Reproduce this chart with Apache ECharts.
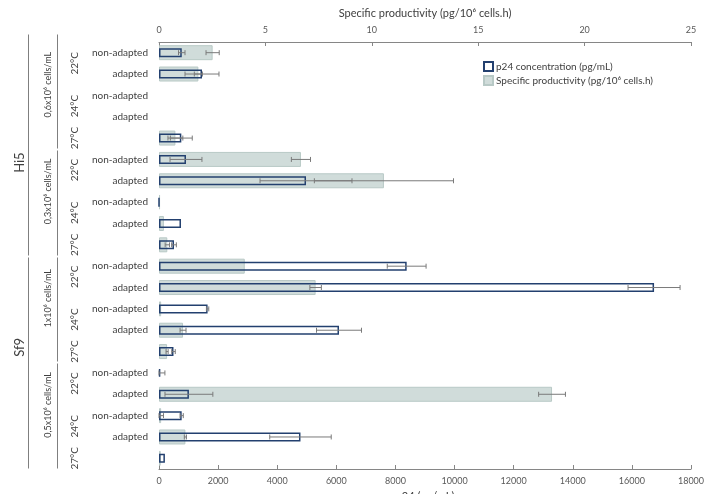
<!DOCTYPE html>
<html>
<head>
<meta charset="utf-8">
<script src="https://cdn.jsdelivr.net/npm/echarts@6/dist/echarts.min.js"></script>
<style>
  html, body { margin: 0; padding: 0; background: #ffffff; }
  #chart { width: 715px; height: 494px; }
</style>
</head>
<body>
<div id="chart"></div>
<script>
// Row labels (top to bottom); the 27°C rows carry no adaptation label
const rowLabels = [
  'non-adapted', 'adapted', 'non-adapted', 'adapted', '',
  'non-adapted', 'adapted', 'non-adapted', 'adapted', '',
  'non-adapted', 'adapted', 'non-adapted', 'adapted', '',
  'non-adapted', 'adapted', 'non-adapted', 'adapted', ''
];

// p24 concentration (pg/mL) and its standard deviation
const p24 = [770, 1455, null, null, 755, 913, 4974, 0, 744, 507,
             8380, 16750, 1644, 6090, 490, 40, 1012, 767, 4787, 200];
const p24Err = [110, 575, null, null, 370, 540, 1556, null, null, 80,
                657, 880, 40, 761, 60, 160, 810, 55, 1040, null];

// Specific productivity (pg/10^6 cells.h) and its standard deviation
const productivity = [2.52, 1.85, null, null, 0.77, 6.67, 10.57, 0.05, 0.23, 0.39,
                      4.03, 7.36, 0.1, 1.13, 0.38, null, 18.47, 0.1, 1.24, 0.08];
const productivityErr = [0.31, 0.19, null, null, 0.35, 0.45, 3.27, null, null, 0.1,
                         null, 0.27, null, 0.14, 0.05, null, 0.63, 0.11, 0.05, null];

// Tick settings of the two value axes
const p24Ticks = { min: 0, max: 18000, interval: 2000 };
const prodTicks = { min: 0, max: 25, interval: 5 };

// Hierarchical row groups (row index ranges)
const cellLines = [
  { name: 'Hi5', from: 0, to: 9, labelAt: 5.15 },
  { name: 'Sf9', from: 10, to: 19, labelAt: 13.8 }
];
const densities = [
  { name: '0,6x10⁶ cells/mL', from: 0, to: 4 },
  { name: '0,3x10⁶ cells/mL', from: 5, to: 9 },
  { name: '1x10⁶ cells/mL', from: 10, to: 14 },
  { name: '0,5x10⁶ cells/mL', from: 15, to: 19 }
];
const temperatures = [
  { name: '22°C', from: 0, to: 1 }, { name: '24°C', from: 2, to: 3 }, { name: '27°C', from: 4, to: 4 },
  { name: '22°C', from: 5, to: 6 }, { name: '24°C', from: 7, to: 8 }, { name: '27°C', from: 9, to: 9 },
  { name: '22°C', from: 10, to: 11 }, { name: '24°C', from: 12, to: 13 }, { name: '27°C', from: 14, to: 14 },
  { name: '22°C', from: 15, to: 16 }, { name: '24°C', from: 17, to: 18 }, { name: '27°C', from: 19, to: 19 }
];

const P24_NAME = 'p24 concentration (pg/mL)';
const PROD_NAME = 'Specific productivity (pg/10⁶ cells.h)';
const FONT = 'Lato';
const TEXT = '#404040';
const AXIS = '#868686';

function errorData(values, errs) {
  const out = [];
  values.forEach((v, i) => {
    if (v == null || errs[i] == null) return;
    out.push([Math.max(0, v - errs[i]), v + errs[i], i]);
  });
  return out;
}

function renderError(params, api) {
  const row = api.value(2);
  const a = api.coord([api.value(0), row]);
  const b = api.coord([api.value(1), row]);
  const h = 2.5;
  const st = { stroke: '#7a7a7a', lineWidth: 1 };
  return {
    type: 'group',
    children: [
      { type: 'line', shape: { x1: a[0], y1: a[1], x2: b[0], y2: b[1] }, style: st },
      { type: 'line', shape: { x1: a[0], y1: a[1] - h, x2: a[0], y2: a[1] + h }, style: st },
      { type: 'line', shape: { x1: b[0], y1: b[1] - h, x2: b[0], y2: b[1] + h }, style: st }
    ]
  };
}

const chart = echarts.init(document.getElementById('chart'), null, { renderer: 'canvas' });

chart.setOption({
  animation: false,
  backgroundColor: '#ffffff',
  textStyle: { fontFamily: FONT },
  grid: { left: 159, right: 24, top: 42, bottom: 25, containLabel: false, outerBoundsMode: 'none' },
  legend: {
    orient: 'vertical',
    left: 483,
    top: 61,
    padding: 0,
    itemWidth: 9,
    itemHeight: 9,
    itemGap: 3,
    textStyle: { fontSize: 10, color: TEXT, fontFamily: FONT, padding: [0, 0, 0, -2] },
    data: [{ name: P24_NAME, icon: 'rect' }, { name: PROD_NAME, icon: 'rect' }]
  },
  xAxis: [
    {
      type: 'value', position: 'bottom',
      min: p24Ticks.min, max: p24Ticks.max, interval: p24Ticks.interval,
      name: 'p24 (pg/mL)', nameLocation: 'middle', nameGap: 21,
      nameTextStyle: { fontSize: 11, color: TEXT, fontFamily: FONT },
      axisLine: { show: true, lineStyle: { color: AXIS, width: 1 } },
      axisTick: { show: true, inside: true, length: 4, lineStyle: { color: AXIS } },
      axisLabel: { fontSize: 9, color: '#595959', margin: 8, formatter: v => String(v) },
      splitLine: { show: false }
    },
    {
      type: 'value', position: 'top',
      min: prodTicks.min, max: prodTicks.max, interval: prodTicks.interval,
      name: PROD_NAME, nameLocation: 'middle', nameGap: 23,
      nameTextStyle: { fontSize: 11, color: TEXT, fontFamily: FONT },
      axisLine: { show: true, lineStyle: { color: AXIS, width: 1 } },
      axisTick: { show: true, inside: true, length: 4, lineStyle: { color: AXIS } },
      axisLabel: { fontSize: 9, color: '#595959', margin: 7, formatter: v => String(v) },
      splitLine: { show: false }
    }
  ],
  yAxis: [
    {
      type: 'category', data: rowLabels, inverse: true,
      axisLine: { show: false }, axisTick: { show: false },
      axisLabel: { fontSize: 10, color: TEXT, margin: 11 }
    },
    { type: 'category', data: rowLabels, inverse: true, show: false }
  ],
  series: [
    {
      name: PROD_NAME, type: 'bar', xAxisIndex: 1, yAxisIndex: 1,
      data: productivity, barWidth: 15, z: 1,
      itemStyle: { color: '#d0dcda', borderColor: '#b8c9c6', borderWidth: 1 }
    },
    {
      name: P24_NAME, type: 'bar', xAxisIndex: 0, yAxisIndex: 0,
      data: p24, barWidth: 9, z: 2,
      itemStyle: { color: 'rgba(255,255,255,0)', borderColor: '#23406f', borderWidth: 1.5 }
    },
    {
      name: 'prodErr', type: 'custom', xAxisIndex: 1, yAxisIndex: 1, z: 3,
      data: errorData(productivity, productivityErr),
      encode: { x: [0, 1], y: 2 }, renderItem: renderError, silent: true
    },
    {
      name: 'p24Err', type: 'custom', xAxisIndex: 0, yAxisIndex: 0, z: 3,
      data: errorData(p24, p24Err),
      encode: { x: [0, 1], y: 2 }, renderItem: renderError, silent: true
    }
  ]
});

// Multi-level row headers placed from the category axis scale
const y0 = chart.convertToPixel({ yAxisIndex: 0 }, 0);
const y1 = chart.convertToPixel({ yAxisIndex: 0 }, 1);
const step = y1 - y0;
const rowY = i => y0 + i * step;
const bandTop = i => rowY(i) - step / 2;
const bandBottom = i => rowY(i) + step / 2;
const LINE = { stroke: '#7f7f7f', lineWidth: 1 };

function vText(txt, x, y, size) {
  return {
    type: 'text', x: x, y: y, rotation: Math.PI / 2, silent: true,
    style: {
      text: txt, fill: TEXT, fontSize: size, fontFamily: FONT,
      align: 'center', verticalAlign: 'middle', textAlign: 'center', textVerticalAlign: 'middle'
    }
  };
}
function vLine(x, from, to) {
  const top = Math.round(bandTop(from) + (from === 0 ? -8 : 1)) + 0.5;
  const bot = Math.round(bandBottom(to) - 1) + 0.5;
  return { type: 'line', silent: true, shape: { x1: x, y1: top, x2: x, y2: bot }, style: LINE };
}

const headers = [];
cellLines.forEach(g => {
  headers.push(vLine(28.5, g.from, g.to));
  headers.push(vText(g.name, 20, rowY(g.labelAt), 13));
});
densities.forEach(d => {
  headers.push(vLine(57.5, d.from, d.to));
  headers.push(vText(d.name, 48, (rowY(d.from) + rowY(d.to - 1)) / 2, 9));
});
temperatures.forEach(t => {
  headers.push(vText(t.name, 75, (rowY(t.from) + rowY(t.to)) / 2, 10));
});

chart.setOption({ graphic: { elements: headers } });
</script>
</body>
</html>
